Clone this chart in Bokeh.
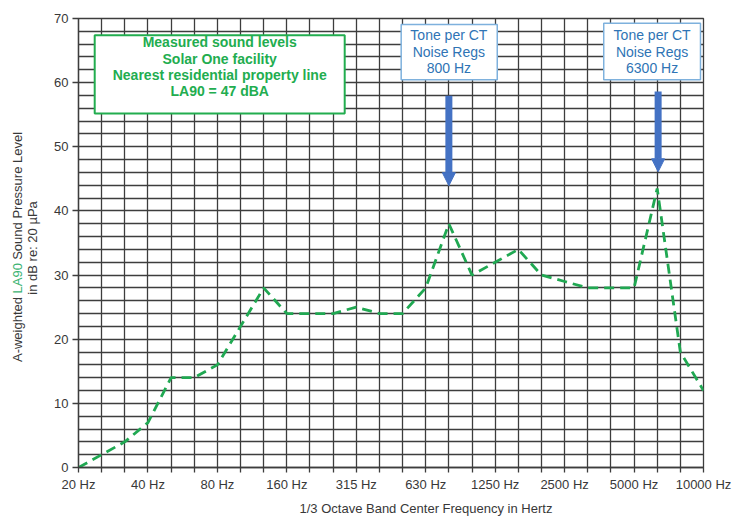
import math
from bokeh.plotting import figure
from bokeh.layouts import row
from bokeh.models import (Range1d, FixedTicker, Label, BoxAnnotation, Arrow, NormalHead, Title)
from bokeh.embed import file_html
from bokeh.resources import INLINE

# ---- data ----
bands = ["20 Hz", "25 Hz", "31.5 Hz", "40 Hz", "50 Hz", "63 Hz", "80 Hz", "100 Hz",
         "125 Hz", "160 Hz", "200 Hz", "250 Hz", "315 Hz", "400 Hz", "500 Hz", "630 Hz",
         "800 Hz", "1000 Hz", "1250 Hz", "1600 Hz", "2000 Hz", "2500 Hz", "3150 Hz",
         "4000 Hz", "5000 Hz", "6300 Hz", "8000 Hz", "10000 Hz"]
la90_levels = [0, 2, 4, 7, 14, 14, 16, 22, 28, 24, 24, 24, 25, 24, 24, 28,
               38, 30, 32, 34, 30, 29, 28, 28, 28, 43.5, 18, 12]
labelled_bands = ["20 Hz", "40 Hz", "80 Hz", "160 Hz", "315 Hz", "630 Hz",
                  "1250 Hz", "2500 Hz", "5000 Hz", "10000 Hz"]
y_ticks = [0, 10, 20, 30, 40, 50, 60, 70]
info_lines = ["Measured sound levels", "Solar One facility",
              "Nearest residential property line", "LA90 = 47 dBA"]
tone_lines_1 = ["Tone per CT", "Noise Regs", "800 Hz"]
tone_lines_2 = ["Tone per CT", "Noise Regs", "6300 Hz"]
x_title = "1/3 Octave Band Center Frequency in Hertz"

idx = list(range(len(bands)))

FONT = "Liberation Sans"
GRID = "#3d3d3d"
TXT = "#383838"
GREEN_LINE = "#20a852"
GREEN_TXT = "#22ad4f"
BLUE_TXT = "#2f74b5"
BLUE_BORDER = "#7eb1dd"
ARROW = "#4472c4"

H = 519
W = 746
TOP, BOTTOM = 18, 47      # borders above / below the plotting frame
YW = 44                   # width of the strip holding the vertical axis title

# ---- strip with the vertical axis title (its frame is aligned with the chart frame) ----
yt = figure(width=YW, height=H, x_range=Range1d(0, YW), y_range=Range1d(BOTTOM, H - TOP),
            x_axis_location=None, y_axis_location=None, output_backend="svg",
            toolbar_location=None, min_border_left=0, min_border_right=0,
            min_border_top=TOP, min_border_bottom=BOTTOM,
            background_fill_color="white", border_fill_color="white")
yt.outline_line_color = None
yt.xgrid.visible = False
yt.ygrid.visible = False
ang = math.pi / 2
# y in this strip = H - (pixel row from top)
yt.add_layout(Label(x=17, y=H - 296 - 3.6, angle=ang, text="A-weighted", text_align="right",
                    text_baseline="alphabetic", text_font=FONT, text_font_size="13px",
                    text_color=TXT))
yt.add_layout(Label(x=17, y=H - 296, angle=ang, text="LA90", text_align="left",
                    text_baseline="alphabetic", text_font=FONT, text_font_size="13px",
                    text_color="#3cb371"))
yt.add_layout(Label(x=17, y=H - 296 + 30.4 + 3.6, angle=ang, text="Sound Pressure Level",
                    text_align="left", text_baseline="alphabetic", text_font=FONT,
                    text_font_size="13px", text_color=TXT))
yt.add_layout(Label(x=32, y=H - 250, angle=ang, text="in dB re: 20 µPa", text_align="center",
                    text_baseline="alphabetic", text_font=FONT, text_font_size="13px",
                    text_color=TXT))

# ---- main chart ----
p = figure(width=W - YW, height=H, x_range=Range1d(0, len(bands) - 1), y_range=Range1d(0, 70),
           output_backend="svg", toolbar_location=None,
           min_border_left=78 - YW, min_border_right=43, min_border_top=TOP,
           min_border_bottom=BOTTOM,
           background_fill_color="white", border_fill_color="white")

p.outline_line_color = GRID
p.outline_line_width = 1.3

p.xgrid.ticker = FixedTicker(ticks=idx)
p.ygrid.ticker = FixedTicker(ticks=list(range(0, 71, 2)))
for g in (p.xgrid, p.ygrid):
    g.grid_line_color = GRID
    g.grid_line_width = 1.3
    g.grid_line_alpha = 1.0

xa = p.xaxis[0]
xa.ticker = FixedTicker(ticks=idx)
xa.major_label_overrides = {i: (b if b in labelled_bands else "") for i, b in enumerate(bands)}
xa.major_tick_out = 5
xa.major_tick_in = 0
xa.minor_tick_line_color = None
xa.axis_line_color = GRID
xa.major_tick_line_color = GRID
xa.major_tick_line_width = 1.3
xa.axis_line_width = 1.3
xa.major_label_text_font = FONT
xa.major_label_text_font_size = "13px"
xa.major_label_text_color = TXT
xa.major_label_standoff = 4

ya = p.yaxis[0]
ya.ticker = FixedTicker(ticks=y_ticks)
ya.major_tick_out = 6
ya.major_tick_in = 0
ya.minor_tick_line_color = None
ya.axis_line_color = GRID
ya.major_tick_line_color = GRID
ya.major_tick_line_width = 1.3
ya.axis_line_width = 1.3
ya.major_label_text_font = FONT
ya.major_label_text_font_size = "13px"
ya.major_label_text_color = TXT
ya.major_label_standoff = 4

# x-axis title as a title below the axis
p.add_layout(Title(text=x_title, align="left", offset=221, standoff=8,
                   text_font=FONT, text_font_size="13px", text_font_style="normal",
                   text_color=TXT), "below")

# data line
p.line(idx, la90_levels, line_color=GREEN_LINE, line_width=2.8, line_dash="10 6")

# info box
p.add_layout(BoxAnnotation(left=0.7, right=11.5, top=67.4, bottom=55.2,
                           fill_color="white", fill_alpha=1.0,
                           line_color=GREEN_TXT, line_width=2, line_alpha=1.0))
for line_text, yy in zip(info_lines, [66.3, 63.65, 61.2, 58.75]):
    p.add_layout(Label(x=6.1, y=yy, text=line_text, text_align="center", text_baseline="middle",
                       text_font=FONT, text_font_size="14px", text_font_style="bold",
                       text_color=GREEN_TXT))

# tone boxes
for (l, r, t, b, cx, lines) in [(13.94, 18.09, 69.07, 60.44, 16.0, tone_lines_1),
                                (22.69, 26.87, 69.27, 60.44, 24.78, tone_lines_2)]:
    p.add_layout(BoxAnnotation(left=l, right=r, top=t, bottom=b,
                               fill_color="white", fill_alpha=1.0,
                               line_color=BLUE_BORDER, line_width=1.5, line_alpha=1.0))
    for line_text, yy in zip(lines, [67.35, 64.8, 62.25]):
        p.add_layout(Label(x=cx, y=yy, text=line_text, text_align="center", text_baseline="middle",
                           text_font=FONT, text_font_size="14px", text_color=BLUE_TXT))

# arrows
for (ax, y0, y1) in [(16.0, 57.97, 43.94), (25.04, 58.63, 46.1)]:
    p.add_layout(Arrow(x_start=ax, y_start=y0, x_end=ax, y_end=y1,
                       line_color=ARROW, line_width=7,
                       end=NormalHead(size=13, fill_color=ARROW, line_color=ARROW, line_width=1)))

layout = row(yt, p, spacing=0)
open("out.html", "w").write(file_html(layout, INLINE))
